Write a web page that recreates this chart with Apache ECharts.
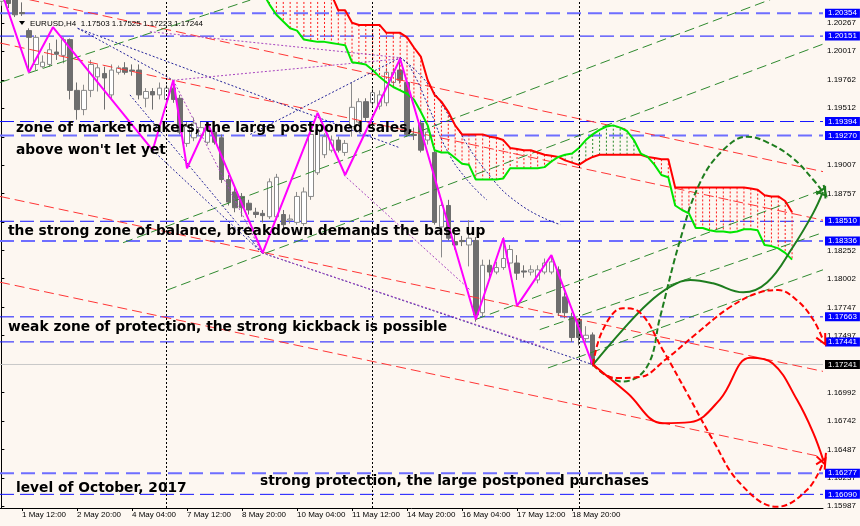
<!DOCTYPE html>
<html><head><meta charset="utf-8">
<script src="https://cdn.jsdelivr.net/npm/echarts@6/dist/echarts.min.js"></script>
<style>html,body{margin:0;padding:0;background:#fdf7f1}#c{width:860px;height:526px}</style>
</head><body><div id="c"></div>
<script>
// ---- DATA ----
// candles: [open, close, low, high], first bar = index 0 (1 May 00:00, H4)
const candles = [
[1.2046,1.2050,1.2042,1.2055],[1.2049,1.2044,1.2040,1.2053],[1.2050,1.2034,1.2032,1.2054],[1.2036,1.2035,1.2033,1.2045],
[1.2020,1.2014,1.1985,1.2022],[1.1990,1.2014,1.1985,1.2016],[1.1988,1.1992,1.1987,1.1998],[1.1990,1.2003,1.1988,1.2009],
[1.2001,1.1999,1.1994,1.2012],[1.1998,1.2012,1.1991,1.2014],[1.2012,1.1967,1.1959,1.2013],[1.1967,1.1950,1.1941,1.1974],
[1.1950,1.1967,1.1945,1.1972],[1.1967,1.1990,1.1961,1.1994],[1.1979,1.1987,1.1966,1.1990],[1.1982,1.1978,1.1950,1.1988],
[1.1963,1.1985,1.1959,1.1990],[1.1983,1.1987,1.1981,1.1989],[1.1987,1.1983,1.1981,1.1992],[1.1985,1.1984,1.1980,1.1990],
[1.1985,1.1963,1.1959,1.1990],[1.1960,1.1966,1.1952,1.1969],[1.1966,1.1963,1.1950,1.1969],[1.1963,1.1969,1.1959,1.1974],
[1.1959,1.1969,1.1956,1.1972],[1.1969,1.1959,1.1956,1.1976],[1.1960,1.1930,1.1928,1.1963],[1.1920,1.1935,1.1917,1.1939],
[1.1925,1.1938,1.1922,1.1943],[1.1927,1.1934,1.1925,1.1939],[1.1921,1.1935,1.1919,1.1939],[1.1930,1.1921,1.1919,1.1934],
[1.1925,1.1888,1.1885,1.1928],[1.1888,1.1868,1.1865,1.1892],[1.1877,1.1863,1.1859,1.1881],[1.1873,1.1863,1.1855,1.1876],
[1.1867,1.1861,1.1857,1.1870],[1.1859,1.1857,1.1854,1.1863],[1.1858,1.1856,1.1850,1.1861],[1.1855,1.1886,1.1853,1.1889],
[1.1855,1.1890,1.1852,1.1893],[1.1857,1.1848,1.1845,1.1861],[1.1852,1.1853,1.1849,1.1857],[1.1850,1.1873,1.1848,1.1877],
[1.1849,1.1877,1.1847,1.1881],[1.1873,1.1928,1.1870,1.1932],[1.1894,1.1932,1.1892,1.1936],[1.1910,1.1926,1.1907,1.1929],
[1.1914,1.1923,1.1912,1.1927],[1.1923,1.1914,1.1912,1.1926],[1.1912,1.1920,1.1909,1.1923],[1.1935,1.1952,1.1926,1.1974],
[1.1939,1.1957,1.1936,1.1960],[1.1957,1.1943,1.1940,1.1960],[1.1956,1.1965,1.1953,1.1969],[1.1953,1.1963,1.1950,1.1967],
[1.1956,1.1983,1.1953,1.1987],[1.1974,1.1983,1.1971,1.1987],[1.1985,1.1976,1.1973,1.1996],[1.1974,1.1928,1.1926,1.1977],
[1.1928,1.1927,1.1923,1.1934],[1.1938,1.1914,1.1912,1.1941],[1.1923,1.1930,1.1919,1.1934],[1.1912,1.1850,1.1848,1.1914],
[1.1846,1.1865,1.1819,1.1870],[1.1865,1.1836,1.1834,1.1870],[1.1833,1.1830,1.1826,1.1839],[1.1834,1.1833,1.1829,1.1838],
[1.1830,1.1836,1.1811,1.1852],[1.1834,1.1768,1.1762,1.1837],[1.1770,1.1812,1.1767,1.1817],[1.1812,1.1806,1.1799,1.1817],
[1.1806,1.1810,1.1804,1.1815],[1.1810,1.1818,1.1808,1.1837],[1.1814,1.1826,1.1810,1.1830],[1.1814,1.1805,1.1799,1.1821],
[1.1807,1.1806,1.1801,1.1812],[1.1806,1.1808,1.1803,1.1812],[1.1799,1.1808,1.1796,1.1812],[1.1806,1.1814,1.1804,1.1818],
[1.1806,1.1815,1.1804,1.1821],[1.1808,1.1770,1.1767,1.1811],[1.1784,1.1770,1.1765,1.1788],[1.1766,1.1748,1.1744,1.1770],
[1.1764,1.1748,1.1741,1.1765],[1.1747,1.1750,1.1744,1.1758],[1.17503,1.17244,1.17223,1.17525]
];
// Ichimoku cloud borders, from bar 38
const ichiStart = 38;
const ichiRed = [1.2056,1.2056,1.2056,1.2056,1.2056,1.2056,1.2056,1.2056,1.2056,1.2056,
1.2052,1.2038,1.2038,1.2027,1.2025,1.2025,1.2025,1.2025,1.2018,1.2018,1.2018,1.2014,1.2005,1.1997,1.1976,1.1963,
1.1957,1.1948,1.1936,1.1928,1.1928,1.1928,1.1928,1.1926,1.1925,1.1923,1.1916,1.1915,1.1914,1.1914,1.1912,1.1910,
1.1909,1.1908,1.1905,1.1903,1.1901,1.1905,1.1908,1.1910,1.1910,1.1910,1.1910,1.1910,1.1910,1.1910,1.1908,1.1907,
1.1906,1.1906,1.1881,1.1881,1.1881,1.1881,1.1881,1.1881,1.1881,1.1881,1.1881,1.1881,1.1881,1.1880,1.1879,1.1874,
1.1873,1.1873,1.1869,1.1859];
const ichiGreen = [1.2054,1.2043,1.2034,1.2028,1.2022,1.2020,1.2012,1.2011,1.2010,1.2010,
1.2009,1.2008,1.2007,1.1992,1.1991,1.1990,1.1985,1.1979,1.1974,1.1970,1.1967,1.1964,1.1959,1.1948,1.1936,1.1914,
1.1912,1.1912,1.1907,1.1902,1.1901,1.1888,1.1888,1.1888,1.1888,1.1889,1.1898,1.1898,1.1898,1.1898,1.1898,1.1899,
1.1904,1.1908,1.1910,1.1911,1.1916,1.1923,1.1928,1.1932,1.1935,1.1936,1.1934,1.1931,1.1923,1.1911,1.1908,1.1901,
1.1892,1.1890,1.1865,1.1861,1.1858,1.1845,1.1845,1.1843,1.1842,1.1842,1.1841,1.1842,1.1844,1.1844,1.1843,1.1830,
1.1829,1.1827,1.1823,1.1817];
// zigzag
const zigIdx = [0, 4, 7.5, 22, 25, 27, 30, 38, 46, 50, 58, 69, 73, 75, 80, 86];
const zigPrice = [1.2055, 1.1983, 1.2023, 1.1914, 1.1976, 1.1898, 1.1938, 1.1823, 1.1947, 1.1892, 1.1995, 1.1764, 1.1836, 1.1776, 1.1821, 1.1724];
// trend lines [idx1, price1, idx2, price2]
const redTrend = [[-0.2,1.2053,119.5,1.1895],[-0.2,1.2009,119.5,1.1852],[-0.2,1.1873,119.5,1.1718],[-0.2,1.1797,119.5,1.1642]];
const greenTrend = [[-0.2,1.1974,36.2,1.2047],[17.7,1.1832,114.7,1.2054],[24.1,1.1790,119.5,1.2008],[69.0,1.1764,119.5,1.1879],[79.5,1.1721,119.5,1.1808],[78.3,1.1755,119.5,1.1841]];
const navyDotted = [[11.1,1.2022,25.0,1.1976],[11.1,1.2022,58.0,1.1916],[22.0,1.1914,37.9,1.1823],[18.7,1.1963,37.9,1.1823],[37.9,1.1823,86.0,1.1724],[36.2,1.1928,58.0,1.1996]];
const navyArcs = [
  [[58,1.1996],[59.4,1.1988],[62.3,1.1950],[64.8,1.1914],[67.7,1.1888],[70.6,1.1870]],
  [[58,1.1996],[61.6,1.1976],[66.0,1.1936],[70.3,1.1897],[75.4,1.1866],[81.3,1.1848]]
];
const purpleDotted = [[25.0,1.1976,58.0,1.1995],[25.0,1.1976,37.9,1.1823],[49.8,1.1892,68.2,1.1790],[37.9,1.1823,79.1,1.1739],[21.6,1.2019,58.0,1.1996]];
// fib labels [idx, price, text]
const fibBlue = [[16.1,1.2001,'0.55'],[27.4,1.1985,'0.59'],[43.4,1.1963,'1.49'],[24.5,1.1901,'1.21'],[29.6,1.1861,'2.34'],[33.3,1.1854,'2.81'],
  [76.9,1.1825,'0.75'],[62.1,1.1769,'1.618'],[78.4,1.1740,'1.58'],[66.0,1.1913,'0.32'],[69.2,1.1903,'0.26'],[53.9,1.1788,'1.54']];
const fibOlive = [[33.3,1.2010,'234'],[42.0,1.1983,'1.128'],[36.5,1.1957,'.786'],[28.0,1.1954,'.5'],[52.5,1.1967,'1.902'],
  [43.4,1.1854,'.447'],[59.9,1.1823,'2.236'],[71.7,1.1765,'.854'],[80.8,1.1745,'2.238']];
// projections
const greenSolid = [[86.05,1.1724],[90.4,1.1755],[94.0,1.1778],[97.3,1.1793],[100.2,1.1799],[103.5,1.1796],[107.9,1.1788],[111.4,1.1797],[115.1,1.1828],[118.05,1.1858],[119.5,1.1877]];
const greenDashed = [[86.05,1.1724],[87.8,1.1715],[90.4,1.1709],[93.9,1.1722],[95.8,1.1766],[98.7,1.1834],[101.6,1.1885],[104.96,1.1914],[108.5,1.1926],[111.4,1.1921],[115.1,1.1907],[118.05,1.1888],[119.5,1.1877]];
const redSolid = [[86.05,1.1724],[91.0,1.1699],[96.2,1.1672],[100.2,1.1673],[104.5,1.1693],[108.9,1.1730],[112.2,1.1725],[115.7,1.1693],[118.05,1.1664],[119.5,1.1640]];
const redDashedA = [[86.05,1.1724],[87.5,1.1755],[90.4,1.1774],[92.9,1.1770],[96.2,1.1737],[99.7,1.1699],[103.5,1.1657],[107.4,1.1619],[112.8,1.1598],[117.2,1.1613],[119.5,1.1637]];
const redDashedB = [[86.05,1.1724],[89.3,1.1712],[92.9,1.1713],[96.5,1.1728],[101.2,1.1752],[106.0,1.1775],[110.3,1.1788],[112.96,1.1790],[115.7,1.1781],[118.05,1.1764],[119.5,1.1746]];
// levels
const levelsLight = [1.20354, 1.19270, 1.18336, 1.16277];
const levelsDark = [1.20151, 1.19394, 1.18510, 1.17663, 1.17441, 1.16090];
const currentPrice = 1.17241;
const weekSeparators = [24, 54, 84];
// axes
const yTicks = [1.20267,1.20017,1.19762,1.19512,1.19257,1.19007,1.18757,1.18502,1.18252,1.18002,1.17747,1.17497,1.17242,1.16992,1.16742,1.16487,1.16237,1.15987];
const xTicks = [3,11,19,27,35,43,51,59,67,75,83];
const xLabels = ['1 May 12:00','2 May 20:00','4 May 04:00','7 May 12:00','8 May 20:00','10 May 04:00','11 May 12:00','14 May 20:00','16 May 04:00','17 May 12:00','18 May 20:00'];

// ---- CHART ----
const chart = echarts.init(document.getElementById('c'));
const F = '"Liberation Sans", Arial, sans-serif';
const X0 = -0.2, X1 = 119.5;
function seg(pts, color, width, type, z, smooth) {
  return {type:'line', data:pts, symbol:'none', showSymbol:false, smooth:smooth||false, silent:true, z:z,
    lineStyle:{color:color, width:width, type:type}, clip:true, animation:false};
}
const series = [];
function level(v, color, width, type, bg) {
  const s = seg([[X0, v],[X1, v]], color, width, type, 2);
  s.endLabel = {show:true, formatter:v.toFixed(5), distance:2, backgroundColor:bg, color:'#fff',
    fontSize:8, fontFamily:F, padding:[1,3,0,3]};
  s.clip = false;
  return s;
}
levelsLight.forEach(v => series.push(level(v, '#6e6eff', 2, [14,7], '#0000ff')));
levelsDark.forEach(v => series.push(level(v, '#1414ff', 1, [14,6], '#0000ff')));
series.push(level(currentPrice, '#c8c8c8', 1, 'solid', '#000000'));

series.push({type:'candlestick', z:2, barWidth:5,
  data: candles.map((c,i)=>[i, c[0], c[1], c[2], c[3]]),
  encode:{x:0, y:[1,2,3,4]},
  itemStyle:{color:'#ffffff', color0:'#6e6e6e', borderColor:'#8a8a8a', borderColor0:'#6e6e6e', borderWidth:1},
  markLine:{silent:true, symbol:'none', animation:false,
    data: weekSeparators.map(v => ({xAxis:v, lineStyle:{color:'#000', width:1, type:[2,2]}, label:{show:false}}))}
});
// ichimoku hatch
series.push({type:'custom', z:3, clip:true, silent:true,
  data: ichiRed.map((v,k)=>[ichiStart+k, v, ichiGreen[k]]),
  renderItem:(params, api) => {
    const i = api.value(0), a = api.value(1), b = api.value(2);
    const p1 = api.coord([i,a]), p2 = api.coord([i,b]);
    return {type:'line', shape:{x1:p1[0], y1:p1[1], x2:p2[0], y2:p2[1]},
      style:{stroke: a>=b ? '#ff1a1a' : '#2a8a2a', lineWidth:1, lineDash:[2,2]}};
  }});
redTrend.forEach(l => series.push(seg([[l[0],l[1]],[l[2],l[3]]], '#ff3535', 1, [10,5], 3)));
greenTrend.forEach(l => series.push(seg([[l[0],l[1]],[l[2],l[3]]], '#2f8a2f', 1, [10,5], 3)));
navyDotted.forEach(l => series.push(seg([[l[0],l[1]],[l[2],l[3]]], '#23239a', 1, [2,2], 3)));
navyArcs.forEach(a => series.push(seg(a, '#23239a', 1, [2,2], 3, true)));
purpleDotted.forEach(l => series.push(seg([[l[0],l[1]],[l[2],l[3]]], '#a845c0', 1, [2,2], 3)));
// ichimoku lines
series.push(seg(ichiRed.map((v,k)=>[ichiStart+k, v]), '#ff0000', 2, 'solid', 4));
series.push(seg(ichiGreen.map((v,k)=>[ichiStart+k, v]), '#00e600', 2, 'solid', 4));
// zigzag
series.push(seg(zigIdx.map((x,k)=>[x, zigPrice[k]]), '#ff00ff', 2, 'solid', 5));
// projections with arrowheads
function proj(pts, color, type, rot) {
  const s = seg(pts, color, 2, type, 6, 0.4);
  s.markPoint = {silent:true, animation:false, symbol:'path://M0,10 L5,0 L10,10', symbolSize:[10,10], symbolRotate:rot,
    itemStyle:{color:'rgba(0,0,0,0)', borderColor:color, borderWidth:2}, label:{show:false},
    data:[{coord:pts[pts.length-1]}]};
  return s;
}
series.push(proj(greenSolid, '#1e7d1e', 'solid', -25));
series.push(proj(greenDashed, '#1e7d1e', [6,3], -140));
series.push(proj(redSolid, '#ff0000', 'solid', -160));
series.push(proj(redDashedA, '#ff0000', [6,3], -31));
series.push(proj(redDashedB, '#ff0000', [6,3], -153));
// fib labels
function fib(arr, color) {
  return {type:'scatter', z:7, silent:true, symbolSize:1, itemStyle:{opacity:0}, data:arr,
    label:{show:true, position:'inside', formatter:p=>p.data[2], color:color, fontSize:8, fontFamily:F}};
}
series.push(fib(fibBlue, '#7d8cb0'));
series.push(fib(fibOlive, '#8c8a5c'));

const NF = 'bold 13.8px "DejaVu Sans", sans-serif';
function note(x, y, t) { return {type:'text', z:100, x:x, y:y, style:{text:t, font:NF, fill:'#000', verticalAlign:'middle'}}; }

chart.setOption({
  animation:false,
  backgroundColor:'#fdf7f1',
  grid:{left:0, top:0, right:37, bottom:18, containLabel:false},
  xAxis:{type:'value', min:X0, max:X1, splitLine:{show:false},
    axisLine:{show:true, onZero:false, lineStyle:{color:'#000', width:1}},
    axisTick:{show:true, customValues:xTicks, length:3, lineStyle:{color:'#000'}},
    axisLabel:{customValues:xTicks, formatter:v=>xLabels[xTicks.indexOf(v)], align:'left', margin:3, fontSize:8, fontFamily:F, color:'#000'}},
  yAxis:{type:'value', position:'right', min:1.15969, max:1.20471, scale:true, splitLine:{show:false},
    axisLine:{show:true, lineStyle:{color:'#000', width:1}},
    axisTick:{show:true, customValues:yTicks, length:3, lineStyle:{color:'#000'}},
    axisLabel:{customValues:yTicks, formatter:v=>v.toFixed(5), margin:4, fontSize:8, fontFamily:F, color:'#000'}},
  series: series,
  graphic:[
    {type:'polygon', z:100, shape:{points:[[19,21],[25,21],[22,25]]}, style:{fill:'#000'}},
    {type:'text', z:100, x:30, y:23.5, style:{text:'EURUSD,H4  1.17503 1.17525 1.17223 1.17244', font:'8px '+F, fill:'#000', verticalAlign:'middle'}},
    note(16,128,"zone of market makers, the large postponed sales,"),
    note(16,150,"above won't let yet"),
    note(8,231,"the strong zone of balance, breakdown demands the base up"),
    note(8,327,"weak zone of protection, the strong kickback is possible"),
    note(260,481,"strong protection, the large postponed purchases"),
    note(16,488,"level of October, 2017")
  ]
});
</script>
</body></html>
